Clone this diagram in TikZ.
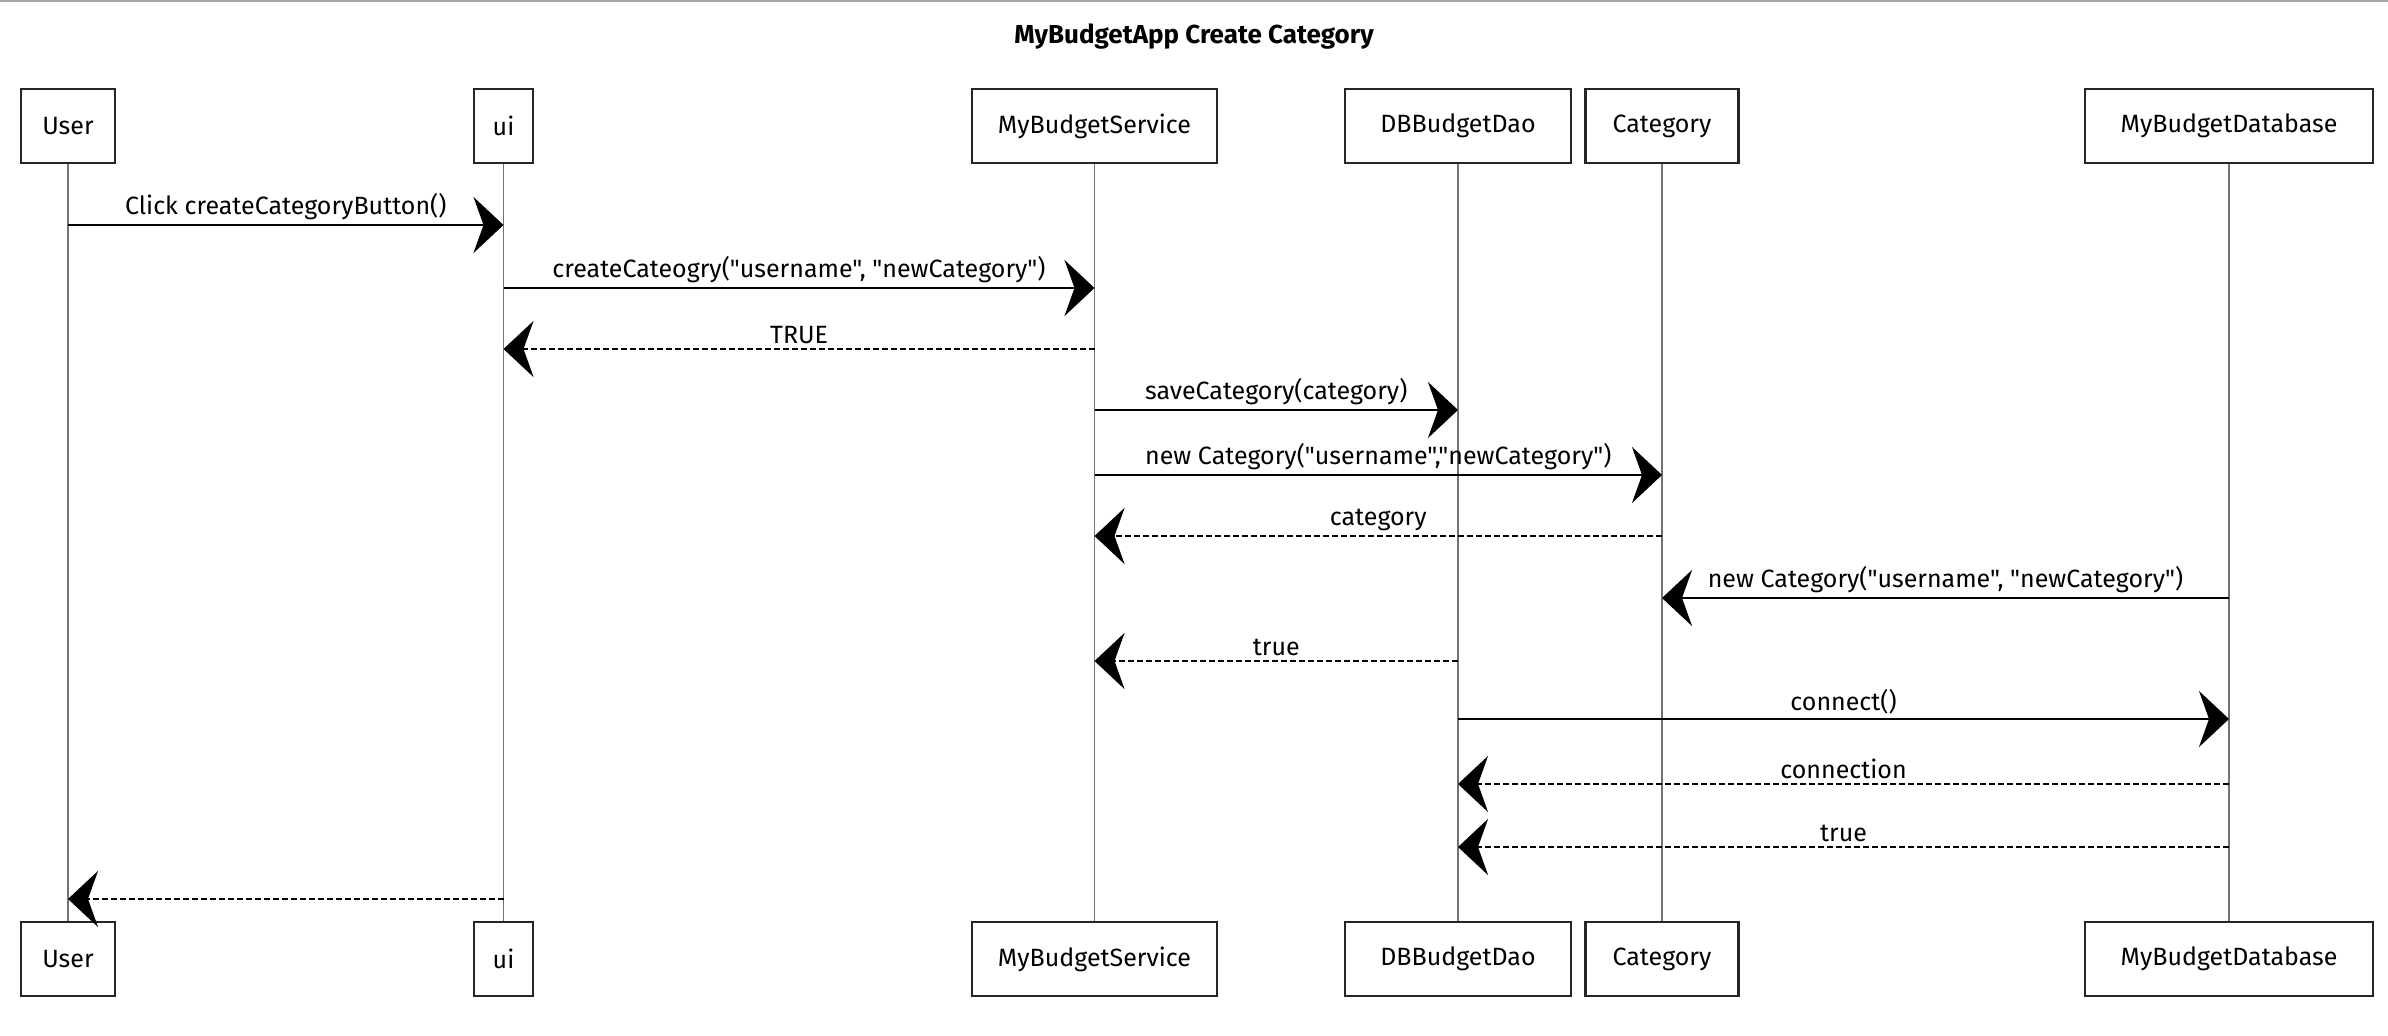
\documentclass[tikz,border=0pt]{standalone}
\usepackage{fontspec}
\setmainfont{Fira Sans}[Ligatures=TeXOff]
\usetikzlibrary{arrows.meta}
\begin{document}
\begin{tikzpicture}[x=0.5pt,y=-0.5pt,
  actor/.style={draw=black!85, line width=1.2pt, fill=white, inner sep=0pt, minimum height=37pt, font=\fontsize{12.5}{14}\selectfont},
  life/.style={draw=black!55, line width=0.7pt},
  call/.style={line width=1.3pt, -{Stealth[length=15pt,width=28pt,inset=5pt]}},
  ret/.style={call, dash pattern=on 3pt off 1.5pt},
  lbl/.style={font=\fontsize{12.5}{14}\selectfont, above=1pt, inner sep=1pt}
]
\useasboundingbox (0,0) rectangle (2388,1036);
\draw[black!35, line width=1pt] (0,1) -- (2388,1);
\node[font=\bfseries\fontsize{13}{15}\selectfont] (title) at (1194,37) {MyBudgetApp Create Category};

\foreach \n/\lab/\x/\w in {user/User/68/47pt, ui/ui/503.5/29.5pt, svc/MyBudgetService/1094.5/122.5pt, dao/DBBudgetDao/1458/113pt, cat/Category/1662/76.5pt, db/MyBudgetDatabase/2229/144pt}{
  \node[actor, minimum width=\w] (\n T) at (\x,126) {\lab};
  \node[actor, minimum width=\w] (\n B) at (\x,959) {\lab};
  \draw[life] (\n T.south) -- (\n B.north);
}

\draw[call] (userT |- 0,225) -- node[lbl]{Click createCategoryButton()} (uiT |- 0,225);
\draw[call] (uiT |- 0,288) -- node[lbl]{createCateogry("username", "newCategory")} (svcT |- 0,288);
\draw[ret] (svcT |- 0,349) -- node[lbl]{TRUE} (uiT |- 0,349);
\draw[call] (svcT |- 0,410) -- node[lbl]{saveCategory(category)} (daoT |- 0,410);
\draw[call] (svcT |- 0,475) -- node[lbl]{new Category("username","newCategory")} (catT |- 0,475);
\draw[ret] (catT |- 0,536) -- node[lbl]{category} (svcT |- 0,536);
\draw[call] (dbT |- 0,598) -- node[lbl]{new Category("username", "newCategory")} (catT |- 0,598);
\draw[ret] (daoT |- 0,661) -- node[lbl]{true} (svcT |- 0,661);
\draw[call] (daoT |- 0,719) -- node[lbl]{connect()} (dbT |- 0,719);
\draw[ret] (dbT |- 0,784) -- node[lbl]{connection} (daoT |- 0,784);
\draw[ret] (dbT |- 0,847) -- node[lbl]{true} (daoT |- 0,847);
\draw[ret] (uiT |- 0,899) -- (userT |- 0,899);
\end{tikzpicture}
\end{document}
